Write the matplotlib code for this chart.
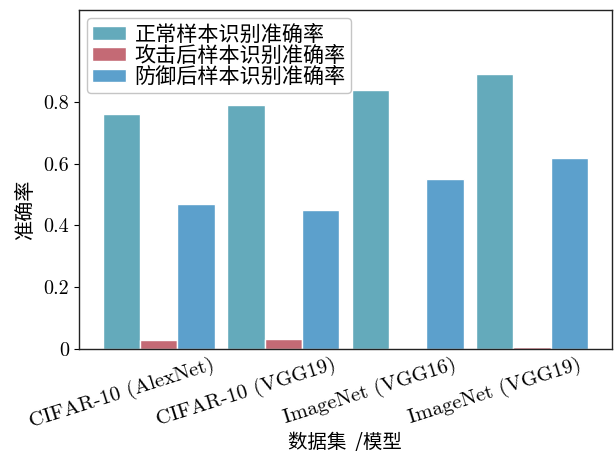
import numpy as np
import matplotlib
matplotlib.use("Agg")
import matplotlib.pyplot as plt

plt.rcParams["font.family"] = ["cmr10", "DejaVu Serif"]
plt.rcParams["axes.formatter.use_mathtext"] = True

categories = ["CIFAR-10 (AlexNet)", "CIFAR-10 (VGG19)", "ImageNet (VGG16)", "ImageNet (VGG19)"]
series_names = ["正常样本识别准确率", "攻击后样本识别准确率", "防御后样本识别准确率"]
acc_clean = [0.76, 0.79, 0.84, 0.89]
acc_attacked = [0.03, 0.032, 0.002, 0.006]
acc_defended = [0.47, 0.45, 0.55, 0.62]
y_ticks = [0, 0.2, 0.4, 0.6, 0.8]
y_tick_labels = ["0", "0.2", "0.4", "0.6", "0.8"]

colors = ["#64aabb", "#c46a75", "#5ca0cc"]
cjk = ["Noto Sans CJK SC", "DejaVu Sans"]

fig = plt.figure(figsize=(6.14, 4.59), dpi=100)
ax = fig.add_axes([0.128, 0.240, 0.869, 0.739])

x = np.arange(len(categories))
w = 0.3
for k, (vals, name) in enumerate(zip([acc_clean, acc_attacked, acc_defended], series_names)):
    ax.bar(x + k * w, vals, width=w, color=colors[k], edgecolor="white",
           linewidth=1.0, label=name)

ax.set_ylim(0, 1.1)
ax.set_yticks(y_ticks)
ax.set_yticklabels(y_tick_labels, fontsize=14.5)
ax.set_xticks(x)
ax.set_xticklabels(categories, rotation=17.5, ha="center", fontsize=15)
ax.tick_params(axis="x", length=0, pad=4)
ax.tick_params(axis="y", direction="out", length=3.5, width=0.8, pad=3.5)

for s in ax.spines.values():
    s.set_color("#222222")
    s.set_linewidth(1.0)

ax.set_xlabel("数据集  /模型", fontsize=14, family=cjk)
ax.xaxis.set_label_coords(0.5, -0.245)
ax.set_ylabel("准确率", fontsize=14.5, family=cjk)
ax.yaxis.set_label_coords(-0.079, 0.41)

leg = ax.legend(loc="upper left", prop={"family": cjk, "size": 15.2},
                handlelength=1.6, handleheight=0.6, labelspacing=-0.04,
                borderpad=0.25, handletextpad=0.4, fancybox=True,
                edgecolor="#bbbbbb", framealpha=0.85, borderaxespad=0.4)

fig.savefig("out.png", dpi=100)
